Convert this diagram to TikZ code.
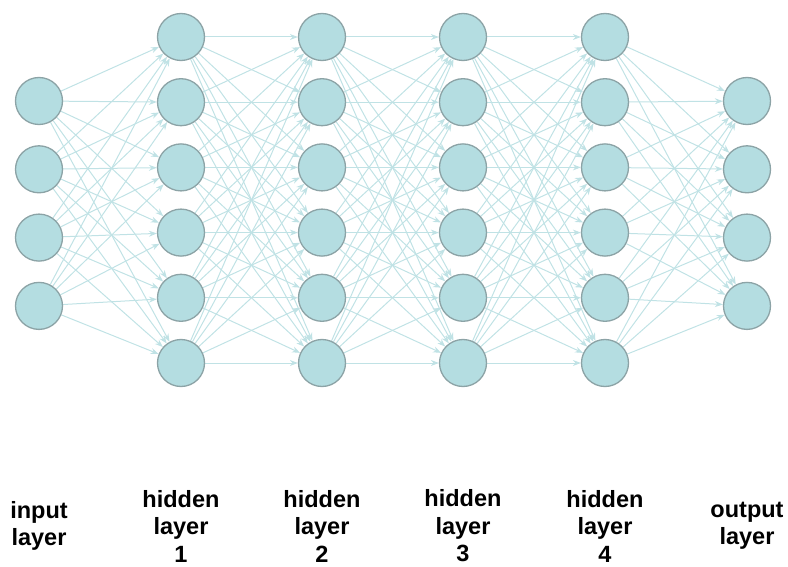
\documentclass[tikz,border=0pt]{standalone}
\usepackage{fontspec}
\setmainfont{Liberation Sans}
\usetikzlibrary{arrows.meta,backgrounds}
\definecolor{nodefill}{RGB}{180,221,225}
\definecolor{nodeborder}{RGB}{140,163,166}
\definecolor{edgecol}{RGB}{192,226,229}
\tikzset{
  neuron/.style={circle,draw=nodeborder,fill=nodefill,line width=1.3pt,minimum size=47pt,inner sep=0pt},
  conn/.style={draw=edgecol,line width=1pt,-{Stealth[length=8pt,width=6pt]}},
  lbl/.style={font=\bfseries\fontsize{23.5}{27.5}\selectfont,align=center,text=black,inner sep=0pt}
}
\begin{document}
\begin{tikzpicture}[x=1pt,y=-1pt]
\useasboundingbox (0,0) rectangle (788,567);
\foreach \i in {1,...,4} {
  \node[neuron] (I\i) at (39,{101+68.3*(\i-1)}) {};
  \node[neuron] (O\i) at (747,{101+68.3*(\i-1)}) {};
}
\foreach \l/\x in {1/181,2/322,3/463,4/605} {
  \foreach \j in {1,...,6} {
    \node[neuron] (H\l-\j) at (\x,{37+65.2*(\j-1)}) {};
  }
}
\begin{pgfonlayer}{background}
\foreach \i in {1,...,4} \foreach \j in {1,...,6} \draw[conn] (I\i) -- (H1-\j);
\foreach \a/\b in {1/2,2/3,3/4} \foreach \i in {1,...,6} \foreach \j in {1,...,6} \draw[conn] (H\a-\i) -- (H\b-\j);
\foreach \i in {1,...,6} \foreach \j in {1,...,4} \draw[conn] (H4-\i) -- (O\j);
\end{pgfonlayer}
\node[lbl] (L0) at (39,526) {input\\layer};
\node[lbl] (L1) at (181,526) {hidden\\layer\\1};
\node[lbl] (L2) at (322,526) {hidden\\layer\\2};
\node[lbl] (L3) at (463,526) {hidden\\layer\\3};
\node[lbl] (L4) at (605,526) {hidden\\layer\\4};
\node[lbl] (L5) at (747,526) {output\\layer};
\end{tikzpicture}
\end{document}
